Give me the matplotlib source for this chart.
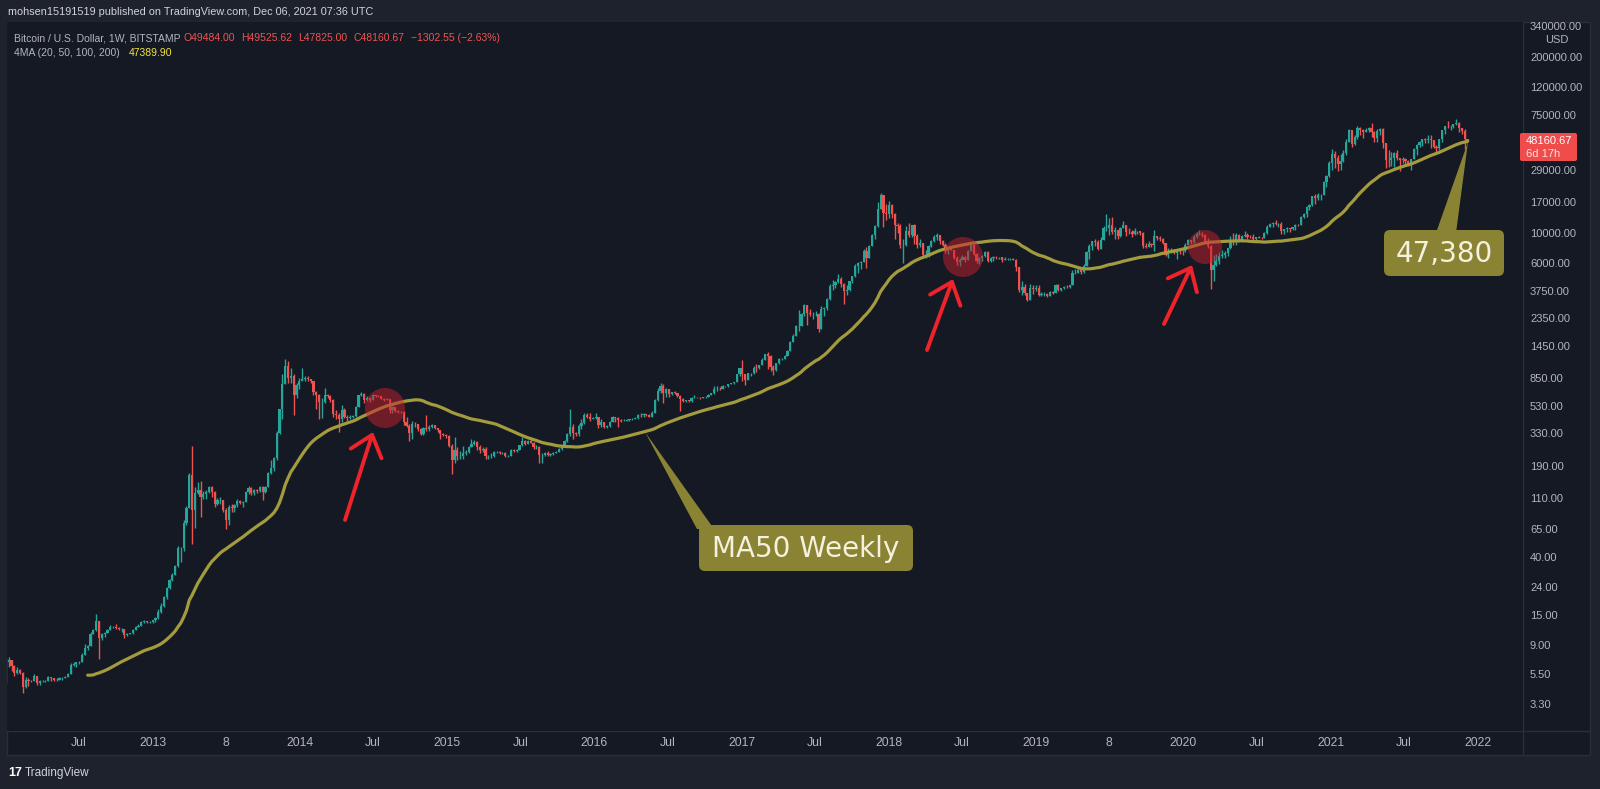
import numpy as np
import pandas as pd
import matplotlib
matplotlib.use("Agg")
import matplotlib.pyplot as plt
import matplotlib.dates as mdates
from matplotlib.patches import FancyBboxPatch, Circle, Polygon, Rectangle, FancyArrowPatch
from matplotlib.lines import Line2D

plt.rcParams['font.family'] = ['Liberation Sans', 'DejaVu Sans']

# --- weekly BITSTAMP BTC/USD candles (close, high, low) ---
first_open = 11.5

close_2011 = [11.0, 10.0, 8.5, 6.2, 5.6, 5.4, 5.0, 4.9, 4.0, 3.2, 3.3, 3.2, 3.0, 2.3, 2.5, 3.0, 3.0, 3.2, 3.9, 4.7]
high_2011 = [11.9, 11.2, 10.2, 8.6, 6.5, 6.0, 5.6, 5.1, 4.9, 4.1, 3.5, 3.6, 3.3, 3.0, 2.6, 3.2, 3.2, 3.5, 4.1, 5.0]
low_2011 = [10.6, 9.6, 8.0, 6.0, 4.8, 5.0, 4.7, 4.4, 3.8, 2.2, 2.9, 2.9, 2.7, 2.0, 2.2, 2.4, 2.8, 3.0, 3.2, 3.8]

close_2012 = [6.8, 7.0, 6.3, 5.6, 5.9, 5.6, 4.4, 5.0, 4.9, 4.9, 5.3, 4.7, 4.9, 4.9, 4.9, 5.2, 5.1, 5.0,
              5.0, 5.1, 5.1, 5.2, 5.5, 6.4, 6.5, 6.7, 6.7, 7.6, 8.6, 8.9, 10.9, 11.6, 13.5, 10.2, 10.8,
              11.0, 11.6, 12.3, 12.3, 12.0, 11.8, 11.9, 10.6, 10.8, 11.0, 11.7, 12.3, 12.5, 13.3, 13.5,
              13.4, 13.4, 13.7]
high_2012 = [7.2, 7.4, 7.0, 6.4, 6.2, 6.0, 5.7, 5.2, 5.1, 5.0, 5.5, 5.3, 5.0, 5.0, 5.0, 5.3, 5.2, 5.1,
             5.1, 5.2, 5.2, 5.3, 5.6, 6.6, 6.8, 6.8, 6.9, 7.8, 9.2, 9.0, 11.2, 11.9, 15.4, 13.2, 11.0,
             11.2, 11.8, 12.6, 12.5, 12.9, 12.2, 12.1, 11.9, 11.0, 11.1, 11.8, 12.4, 12.8, 13.5, 13.7,
             13.6, 13.5, 13.9]
low_2012 = [4.7, 6.2, 5.8, 5.3, 5.5, 5.5, 4.0, 4.3, 4.5, 4.8, 4.9, 4.6, 4.6, 4.8, 4.8, 4.9, 4.9, 4.9,
            4.9, 5.0, 5.0, 5.1, 5.2, 5.5, 6.3, 6.2, 6.5, 6.8, 7.6, 8.3, 8.9, 10.8, 11.5, 7.1, 9.8,
            10.4, 11.0, 11.6, 12.0, 11.9, 11.6, 11.2, 10.2, 10.5, 10.8, 10.9, 11.6, 12.2, 12.5, 13.2,
            13.1, 13.2, 13.2]

close_2013 = [14.2, 15.8, 17.5, 20.4, 23.7, 27.3, 29.8, 34.5, 46.9, 47.0, 71.5, 93.0, 162, 90, 119, 127,
              112, 117, 122, 133, 122, 100, 107, 107, 89, 76, 95, 92, 97, 105, 101, 103, 121, 131, 120,
              127, 124, 132, 121, 133, 168, 182, 218, 334, 502, 770, 1036, 850, 870, 640, 750, 800]
high_2013 = [14.5, 16.5, 18.5, 20.8, 24.0, 27.6, 30.9, 35.0, 48.4, 48.0, 76.0, 96.0, 167, 266, 132, 144,
             146, 124, 125, 134, 135, 124, 110, 112, 104, 92, 98, 100, 99, 108, 107, 104, 124, 135, 132,
             129, 128, 134, 136, 135, 170, 210, 220, 345, 503, 900, 1163, 1140, 1000, 900, 780, 850]
low_2013 = [13.3, 14.1, 15.6, 17.2, 19.8, 23.4, 26.8, 29.5, 33.9, 37.0, 45.0, 70.0, 93, 50, 66, 117,
            79, 108, 108, 120, 112, 95, 98, 99, 87, 65, 70, 86, 87, 94, 99, 95, 102, 118, 115,
            116, 120, 122, 106, 119, 132, 165, 175, 210, 325, 420, 760, 780, 780, 450, 600, 700]

close_2014 = [830, 850, 830, 810, 670, 630, 560, 560, 630, 620, 580, 460, 450, 420, 490, 440, 430, 440,
              445, 520, 630, 650, 580, 600, 580, 630, 625, 620, 595, 585, 590, 490, 515, 480, 478, 475,
              400, 375, 330, 390, 385, 355, 325, 365, 355, 370, 380, 360, 350, 325, 320, 315]
high_2014 = [1000, 870, 870, 840, 810, 680, 650, 600, 710, 650, 630, 590, 490, 470, 540, 510, 450, 455,
             450, 525, 630, 670, 660, 620, 610, 650, 635, 630, 625, 600, 600, 590, 530, 520, 490, 485,
             480, 440, 390, 410, 400, 390, 360, 370, 450, 380, 385, 382, 360, 350, 335, 325]
low_2014 = [800, 800, 800, 780, 630, 500, 420, 430, 550, 600, 560, 440, 420, 340, 400, 430, 410, 420,
            430, 440, 520, 620, 550, 570, 560, 580, 610, 610, 590, 575, 580, 470, 470, 475, 470, 470,
            380, 370, 290, 300, 370, 345, 320, 320, 345, 345, 360, 355, 340, 300, 315, 305]

close_2015 = [268, 210, 250, 225, 225, 235, 240, 260, 275, 285, 260, 250, 255, 225, 225, 225, 240, 240,
              237, 237, 225, 225, 250, 245, 250, 270, 290, 275, 290, 280, 260, 260, 230, 230, 235, 230,
              232, 237, 240, 255, 265, 290, 325, 370, 330, 325, 375, 395, 450, 440, 420, 430]
high_2015 = [320, 275, 310, 260, 245, 265, 250, 265, 300, 295, 290, 270, 260, 260, 230, 235, 245, 245,
             245, 242, 240, 230, 255, 255, 255, 270, 310, 295, 295, 298, 285, 270, 265, 235, 240, 245,
             235, 240, 245, 257, 270, 295, 335, 500, 390, 340, 385, 420, 470, 470, 465, 440]
low_2015 = [260, 165, 200, 210, 215, 215, 230, 235, 260, 270, 250, 235, 240, 215, 215, 217, 220, 235,
            234, 233, 222, 220, 224, 240, 240, 250, 265, 270, 275, 280, 255, 255, 200, 200, 225, 225,
            225, 228, 235, 240, 250, 265, 285, 315, 300, 315, 315, 355, 390, 430, 410, 420]

close_2016 = [435, 380, 400, 370, 375, 400, 435, 430, 415, 410, 410, 415, 420, 425, 430, 455, 450, 460,
              455, 440, 470, 580, 675, 740, 660, 700, 650, 665, 655, 625, 590, 570, 580, 575, 605, 605,
              605, 600, 610, 615, 640, 655, 700, 705, 700, 735, 735, 765, 775, 790, 900, 1000]
high_2016 = [465, 440, 420, 400, 380, 405, 445, 440, 440, 420, 420, 420, 425, 430, 435, 460, 470, 465,
             460, 460, 480, 590, 710, 780, 760, 710, 700, 670, 680, 660, 630, 600, 585, 585, 610, 630,
             610, 610, 615, 620, 645, 660, 740, 740, 730, 755, 745, 770, 780, 795, 910, 1000]
low_2016 = [420, 360, 370, 365, 365, 370, 400, 400, 370, 400, 405, 405, 410, 415, 420, 425, 440, 440,
            445, 435, 440, 470, 570, 660, 550, 610, 610, 640, 645, 615, 480, 565, 565, 565, 565, 600,
            600, 590, 600, 605, 615, 630, 650, 680, 695, 700, 725, 730, 760, 770, 790, 880]

close_2017 = [905, 820, 920, 920, 1010, 1000, 1050, 1150, 1270, 1240, 1020, 970, 1090, 1180, 1180, 1240,
              1350, 1560, 1730, 2050, 2050, 2500, 2950, 2550, 2500, 2500, 2500, 1950, 2750, 2800, 3250,
              4050, 4100, 4350, 4600, 4200, 3700, 3800, 4400, 4800, 5700, 6000, 6150, 7350, 6500, 8050,
              9700, 11250, 15000, 19000, 14000, 13800]
high_2017 = [1150, 910, 925, 930, 1040, 1070, 1060, 1200, 1280, 1330, 1250, 1050, 1100, 1200, 1200, 1250,
             1360, 1600, 1780, 2100, 2700, 2550, 2980, 2950, 2750, 2600, 2650, 2550, 2900, 2820, 3300,
             4200, 4480, 4400, 4980, 4700, 4250, 4100, 4450, 4850, 5850, 6150, 6250, 7600, 7900, 8200,
             9800, 11500, 17000, 19700, 19000, 16500]
low_2017 = [800, 750, 820, 880, 915, 940, 990, 1050, 1150, 980, 950, 890, 960, 1080, 1160, 1180,
            1240, 1350, 1560, 1720, 1900, 2050, 2450, 2100, 2450, 2300, 2450, 1850, 1950, 2450, 2700,
            3200, 3800, 3950, 4300, 4000, 2970, 3500, 3700, 4250, 4750, 5100, 5450, 6100, 5500, 6500,
            8000, 9000, 11000, 15500, 11000, 12500]

close_2018 = [16200, 13800, 11500, 11200, 8100, 8100, 10300, 9600, 11400, 9500, 8200, 8400, 6900, 6900,
              8000, 8800, 9300, 9600, 8700, 8200, 7350, 7650, 7500, 6500, 6100, 6350, 6700, 6350, 7400,
              8200, 7000, 6250, 6500, 6750, 7200, 6200, 6500, 6700, 6600, 6600, 6300, 6400, 6400, 6400,
              6350, 5600, 3800, 4000, 3600, 3200, 3900, 3850, 3900]
high_2018 = [17200, 16300, 14100, 11900, 11700, 9000, 11200, 11800, 11500, 11700, 9900, 9100, 8500, 7500,
             8200, 8950, 9700, 9950, 9700, 8850, 8500, 7700, 7800, 7550, 6800, 6500, 6850, 6800, 7550,
             8500, 8250, 7150, 6600, 6850, 7400, 7400, 6600, 6800, 6750, 6700, 6700, 6650, 6500, 6500,
             6550, 6400, 5600, 4400, 4200, 3600, 4200, 4150, 4100]
low_2018 = [12800, 12800, 9000, 10000, 7700, 6000, 8000, 9300, 9400, 8350, 7700, 7900, 6550, 6500,
            6600, 7900, 8650, 8900, 8350, 7950, 7100, 7050, 7450, 6400, 5800, 5750, 6300, 6100, 6300,
            7350, 6900, 6000, 5900, 6200, 6650, 6150, 6150, 6250, 6450, 6450, 6100, 6300, 6350, 6300,
            6300, 5200, 3650, 3500, 3500, 3150, 3200, 3550, 3700]

close_2019 = [3500, 3530, 3540, 3410, 3660, 3620, 4140, 3800, 3900, 4000, 3990, 4100, 5050, 5070, 5310,
              5150, 5700, 7250, 8000, 8740, 8550, 7650, 8950, 10800, 10800, 11450, 10200, 10500, 9500,
              10800, 11400, 10200, 10100, 9800, 10400, 10300, 10000, 8050, 7850, 8300, 8200, 9500, 9200,
              9050, 8500, 6900, 7400, 7500, 7100, 7500, 7380, 7350]
high_2019 = [4100, 3650, 3650, 3580, 3700, 3700, 4200, 4200, 3950, 4050, 4100, 4150, 5350, 5450, 5600,
             5650, 5850, 7400, 8300, 8800, 9100, 8900, 9350, 11300, 13850, 12900, 13200, 11100, 10200,
             11000, 12300, 11450, 10900, 10600, 10900, 10400, 10350, 10100, 8500, 8800, 8450, 10500,
             9500, 9450, 9150, 8500, 7800, 7700, 7600, 7550, 7650, 7500]
low_2019 = [3450, 3450, 3450, 3350, 3400, 3550, 3600, 3700, 3700, 3850, 3950, 3950, 4100, 4950, 5050,
            5000, 5100, 5700, 6400, 7500, 8000, 7450, 7600, 8950, 10300, 9700, 9900, 9100, 9100,
            9400, 10800, 9500, 9800, 9350, 9700, 9900, 9600, 7750, 7700, 7850, 7900, 7300,
            8900, 8700, 8300, 6800, 6500, 7100, 7000, 6450, 7050, 6850]

close_2020 = [8150, 8900, 8600, 9350, 9900, 9900, 9650, 8550, 8050, 5350, 5800, 6250, 6800, 6900, 7150,
              7700, 8900, 8700, 9700, 8900, 9450, 9650, 9350, 9300, 9000, 9300, 9250, 9200, 9950, 11100,
              11650, 11800, 11650, 11700, 10300, 10650, 10950, 10750, 11050, 11550, 11400, 13100, 13750,
              15500, 16050, 18700, 18200, 19150, 19250, 23800, 26400, 33000]
high_2020 = [8450, 9000, 8950, 9600, 10150, 10500, 10200, 9850, 9200, 8150, 6900, 6950, 7200, 7450, 7300,
             7800, 9450, 10000, 9950, 9850, 9700, 10400, 9950, 9600, 9750, 9350, 9450, 9300, 10100, 11400,
             11900, 12100, 12400, 11850, 12100, 10750, 11050, 10800, 11100, 11600, 11700, 13350, 14050,
             15950, 16500, 18800, 19450, 19900, 19400, 24200, 27000, 34000]
low_2020 = [7250, 8100, 8250, 8500, 9150, 9700, 9300, 8450, 7700, 3850, 4450, 5700, 5900, 6500, 6500,
            6800, 7650, 8100, 8200, 8600, 8650, 9300, 9100, 9150, 8850, 8950, 9150, 9050, 9150, 9900,
            11100, 11150, 11450, 11150, 9900, 9900, 10250, 10150, 10450, 10550, 11200, 11400, 12950,
            13200, 14850, 15800, 16300, 17600, 17600, 19000, 21900, 26000]

close_2021 = [38200, 36000, 32300, 34300, 38900, 47200, 57500, 45200, 51200, 59700, 57500, 55800, 57800,
              59800, 56200, 50100, 56600, 58200, 46400, 34700, 34600, 35800, 39100, 35600, 34700, 35300,
              34300, 31800, 35400, 41500, 44600, 47100, 49300, 48800, 49900, 48300, 43000, 42700, 49100,
              57400, 61600, 61300, 61300, 64200, 65500, 59700, 57200, 49463.22, 48160.67]
high_2021 = [42000, 40100, 37800, 38600, 40900, 49700, 58300, 57500, 52600, 61800, 60600, 58400, 60100,
             61100, 64800, 57000, 58600, 59500, 59600, 46600, 40800, 39500, 40000, 41300, 36000, 36600,
             35900, 34600, 35400, 42600, 45300, 48100, 49700, 50500, 52800, 52900, 48800, 45000, 49200,
             57800, 62000, 66900, 63000, 64300, 69000, 66300, 59500, 59000, 49525.62]
low_2021 = [29000, 30200, 28850, 29300, 33400, 38000, 47100, 43000, 45000, 49300, 53300, 50400, 55600,
            55600, 51000, 47000, 47000, 53000, 42800, 30000, 31000, 31300, 31000, 34800, 28800, 32700,
            32000, 31100, 29300, 35300, 37600, 43500, 43900, 46300, 46500, 42800, 42500, 39600, 40800,
            47000, 54000, 59700, 58000, 59400, 62300, 55600, 53500, 42000, 47825.00]

year_blocks = [
    ('2011-08-15', close_2011, high_2011, low_2011),
    ('2012-01-02', close_2012, high_2012, low_2012),
    ('2013-01-07', close_2013, high_2013, low_2013),
    ('2014-01-06', close_2014, high_2014, low_2014),
    ('2015-01-05', close_2015, high_2015, low_2015),
    ('2016-01-04', close_2016, high_2016, low_2016),
    ('2017-01-02', close_2017, high_2017, low_2017),
    ('2018-01-01', close_2018, high_2018, low_2018),
    ('2019-01-07', close_2019, high_2019, low_2019),
    ('2020-01-06', close_2020, high_2020, low_2020),
    ('2021-01-04', close_2021, high_2021, low_2021),
]

price_ticks = [340000, 200000, 120000, 75000, 29000, 17000, 10000, 6000, 3750, 2350, 1450, 850, 530,
               330, 190, 110, 65, 40, 24, 15, 9, 5.5, 3.3]
time_ticks = ['2012-07-01', '2013-01-01', '2013-07-01', '2014-01-01', '2014-07-01', '2015-01-01',
              '2015-07-01', '2016-01-01', '2016-07-01', '2017-01-01', '2017-07-01', '2018-01-01',
              '2018-07-01', '2019-01-01', '2019-07-01', '2020-01-01', '2020-07-01', '2021-01-01',
              '2021-07-01', '2022-01-01']
time_labels = ['Jul', '2013', '8', '2014', 'Jul', '2015', 'Jul', '2016', 'Jul', '2017', 'Jul', '2018',
               'Jul', '2019', '8', '2020', 'Jul', '2021', 'Jul', '2022']
ohlc_legend = ['O49484.00', 'H49525.62', 'L47825.00', 'C48160.67', '\u22121302.55 (\u22122.63%)']

# --- assemble weekly candles ---
frames = []
for start, c, h, l in year_blocks:
    n = min(len(c), len(h), len(l))
    idx = pd.date_range(start, periods=n, freq='7D')
    frames.append(pd.DataFrame({'close': c[:n], 'high': h[:n], 'low': l[:n]}, index=idx))
df = pd.concat(frames)
df['open'] = df['close'].shift(1)
df.iloc[0, df.columns.get_loc('open')] = first_open
df['high'] = df[['high', 'open', 'close']].max(axis=1)
df['low'] = df[['low', 'open', 'close']].min(axis=1)
df['ma50'] = df['close'].rolling(50).mean()

# colours
BG_OUT = '#1e222d'
BG_PANE = '#151924'
GRID_LINE = '#2a2e39'
TXT = '#b2b5be'
UP = '#26a69a'
DOWN = '#ef5350'
MA_COL = '#a39b3e'
OLIVE = '#8b8334'
ARROW_RED = '#f0232b'

W, H = 1600, 789
fig = plt.figure(figsize=(16, 7.8901), dpi=100, facecolor=BG_OUT)


def inch(x, y):
    # pixel position (top-left origin) -> inches for dpi_scale_trans
    return (x / 100.0, (H - y) / 100.0)


def frac(x, y):
    return (x / W, 1 - y / H)


# pane background and separators
fig.patches.append(Rectangle(frac(7, 755), (1590 - 7) / W, (755 - 22) / H, transform=fig.transFigure,
                             facecolor=BG_PANE, edgecolor=GRID_LINE, lw=1, zorder=-5))
fig.lines.append(Line2D([1523 / W, 1523 / W], [1 - 22 / H, 1 - 755 / H], transform=fig.transFigure,
                        color=GRID_LINE, lw=1, zorder=-4))
fig.lines.append(Line2D([7 / W, 1590 / W], [1 - 731 / H, 1 - 731 / H], transform=fig.transFigure,
                        color=GRID_LINE, lw=1, zorder=-4))

ax = fig.add_axes([7 / W, 1 - 731 / H, (1523 - 7) / W, (731 - 22) / H])
ax.set_facecolor(BG_PANE)
for s in ax.spines.values():
    s.set_visible(False)

x = mdates.date2num(df.index.to_pydatetime())
up = (df['close'] >= df['open']).values
colors = np.where(up, UP, DOWN)
ax.vlines(x, df['low'], df['high'], colors=colors, lw=1.0, zorder=2)
body_lo = df[['open', 'close']].min(axis=1)
body_h = (df['close'] - df['open']).abs()
ax.bar(x, body_h, bottom=body_lo, width=5.4, color=colors, linewidth=0, zorder=3)
ax.plot(x, df['ma50'], color=MA_COL, lw=2.3, zorder=4, solid_capstyle='round')

# axis scaling: ~0.4031 px/day, 135.3 px/decade
x_ref = mdates.date2num(pd.Timestamp('2013-01-01').to_pydatetime())
ax.set_xlim(x_ref - 146 / 0.4031, x_ref + 1370 / 0.4031)
ax.set_yscale('log')
ax.set_ylim(10 ** (4 - 498 / 135.3), 10 ** (4 + 211 / 135.3))

ax.yaxis.tick_right()
ax.yaxis.set_minor_locator(matplotlib.ticker.NullLocator())
ax.set_yticks(price_ticks)
ax.set_yticklabels([f'{v:.2f}' for v in price_ticks])
ax.tick_params(axis='y', length=0, pad=5, labelsize=8, labelcolor=TXT)

ax.set_xticks(mdates.date2num(pd.to_datetime(time_ticks).to_pydatetime()))
ax.set_xticklabels(time_labels)
ax.tick_params(axis='x', length=0, pad=4.5, labelsize=8.8, labelcolor=TXT)

# header texts
fig.text(*frac(8, 12), 'mohsen15191519 published on TradingView.com, Dec 06, 2021 07:36 UTC',
         fontsize=7.8, color='#d1d4dc', va='center', ha='left')
fig.text(*frac(14, 38), 'Bitcoin / U.S. Dollar, 1W, BITSTAMP', fontsize=7.5, color=TXT, va='center')
renderer = fig.canvas.get_renderer()
cur_x = 184
for s in ohlc_legend:
    t = fig.text(*frac(cur_x, 38), s, fontsize=7.5, color=DOWN, va='center')
    cur_x += t.get_window_extent(renderer).width + 6
fig.text(*frac(14, 53), '4MA (20, 50, 100, 200)', fontsize=7.5, color=TXT, va='center')
fig.text(*frac(129, 53), '47389.90', fontsize=7.5, color='#f5e33f', va='center')

# price axis extras
fig.text(*frac(1545, 40), 'USD', fontsize=8, color=TXT, va='center')
fig.patches.append(FancyBboxPatch(inch(1520, 161), 0.57, 0.28, boxstyle='round,pad=0,rounding_size=0.02',
                                  transform=fig.dpi_scale_trans, facecolor='#f04c4c', edgecolor='none',
                                  zorder=5))
fig.text(*frac(1526, 141), '48160.67', fontsize=8, color='white', va='center', zorder=6)
fig.text(*frac(1526, 154), '6d 17h', fontsize=8, color='#fde0e0', va='center', zorder=6)

# TradingView logo
fig.text(*frac(8, 773), '17', fontsize=9, color='white', fontweight='bold', va='center')
fig.text(*frac(25, 773), 'TradingView', fontsize=8.5, color='#d1d4dc', va='center')

# red highlight circles
for cx, cy, r in [(385, 408, 20), (963, 257, 20), (1205, 247, 17)]:
    fig.patches.append(Circle(inch(cx, cy), r / 100.0, transform=fig.dpi_scale_trans,
                              facecolor='#c8202c', alpha=0.5, edgecolor='none', zorder=6))

# red arrows
for tail, tip in [((345, 520), (373, 432)), ((927, 350), (953, 279)), ((1164, 324), (1192, 265))]:
    fig.patches.append(FancyArrowPatch(inch(*tail), inch(*tip), transform=fig.dpi_scale_trans,
                                       arrowstyle='->,head_length=0.7,head_width=0.58', mutation_scale=20,
                                       lw=2.8, color=ARROW_RED, shrinkA=0, shrinkB=0, zorder=7,
                                       capstyle='round', joinstyle='round'))

# olive callouts
fig.patches.append(Polygon([inch(645, 432), inch(697, 529), inch(714, 529)], closed=True,
                           transform=fig.dpi_scale_trans, facecolor=OLIVE, edgecolor='none', zorder=7))
fig.patches.append(FancyBboxPatch(inch(699, 571), 2.14, 0.46, boxstyle='round,pad=0,rounding_size=0.06',
                                  transform=fig.dpi_scale_trans, facecolor=OLIVE, edgecolor='none', zorder=7))
fig.text(*frac(806, 549), 'MA50 Weekly', family='DejaVu Sans', fontsize=20, color='#f4f1de',
         ha='center', va='center', zorder=8)

fig.patches.append(Polygon([inch(1468, 142), inch(1436, 233), inch(1456, 233)], closed=True,
                           transform=fig.dpi_scale_trans, facecolor=OLIVE, edgecolor='none', zorder=7))
fig.patches.append(FancyBboxPatch(inch(1384, 276), 1.20, 0.46, boxstyle='round,pad=0,rounding_size=0.06',
                                  transform=fig.dpi_scale_trans, facecolor=OLIVE, edgecolor='none', zorder=7))
fig.text(*frac(1444, 254), '47,380', family='DejaVu Sans', fontsize=20, color='#f4f1de',
         ha='center', va='center', zorder=8)

fig.savefig('out.png', dpi=100, facecolor=fig.get_facecolor())
